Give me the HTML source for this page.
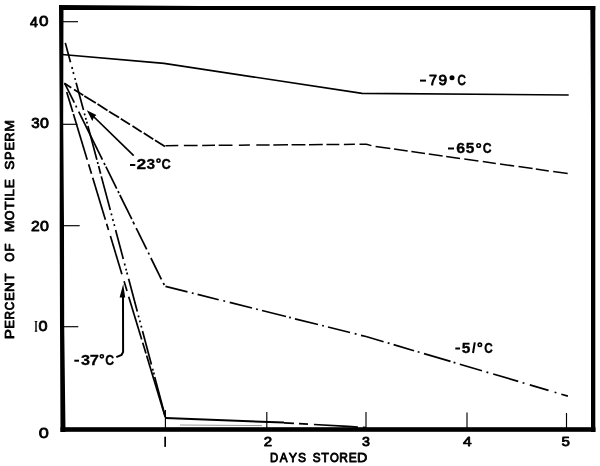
<!DOCTYPE html>
<html><head><meta charset="utf-8">
<style>
html,body{margin:0;padding:0;background:#fff;}
svg{display:block;filter:grayscale(1)}
text{font-family:"Liberation Sans",sans-serif;font-size:14px;fill:#000}
text.h{font-weight:bold;stroke:#000;stroke-width:0.3px;vector-effect:non-scaling-stroke;stroke-linejoin:round}
text.l{font-weight:normal;stroke:#000;stroke-width:0.85px;vector-effect:non-scaling-stroke;stroke-linejoin:round}
</style></head>
<body>
<svg width="600" height="466" viewBox="0 0 600 466">
<rect width="600" height="466" fill="#fff"/>
<!-- frame -->
<g fill="#000">
<polygon points="59,5 63.5,5 63.2,120 64,225 64.2,326 65.5,432 60.5,432 60,326 59.7,225 59.7,120"/>
<polygon points="59,5 200,6 595.3,6 595.3,10.1 59,10.1"/>
<polygon points="590.3,6 595.3,6 595.3,432 591,432 591,120"/>
<rect x="60.5" y="427.2" width="535" height="4.6"/>
</g>
<!-- ticks -->
<g stroke="#000" stroke-width="1.15" fill="none">
<line x1="63" y1="21.7" x2="78" y2="21.7"/>
<line x1="63" y1="124.3" x2="77.3" y2="124.3"/>
<line x1="63" y1="225.7" x2="79.7" y2="225.7"/>
<line x1="63" y1="326.7" x2="78.3" y2="326.7"/>
<line x1="165.4" y1="410" x2="165.4" y2="428"/>
<line x1="266.8" y1="412" x2="266.8" y2="428"/>
<line x1="366" y1="412" x2="366" y2="428"/>
<line x1="467" y1="412.5" x2="467" y2="428"/>
<line x1="566.5" y1="413" x2="566.5" y2="428"/>
</g>
<!-- data lines -->
<g stroke="#000" stroke-width="1.7" fill="none" stroke-linecap="butt">
<!-- -79 -->
<polyline points="62,54.5 164,63.4 362,93.3 568.7,95"/>
<!-- -65 -->
<g stroke-width="1.75">
<line x1="64.3" y1="83.3" x2="71.3" y2="87.7"/>
<line x1="74.0" y1="89.4" x2="83.3" y2="95.2"/>
<line x1="84.3" y1="95.9" x2="95.8" y2="103.1"/>
<line x1="97.5" y1="104.1" x2="107.5" y2="110.4"/>
<line x1="109.0" y1="111.4" x2="119.0" y2="117.6"/>
<line x1="120.8" y1="118.8" x2="130.0" y2="124.5"/>
<line x1="132.5" y1="126.1" x2="141.7" y2="131.9"/>
<line x1="143.7" y1="133.1" x2="153.3" y2="139.2"/>
<line x1="155.0" y1="140.2" x2="165.0" y2="146.5"/>
</g>
<g stroke-width="1.5">
<line x1="165.5" y1="145.7" x2="178.3" y2="145.6"/>
<line x1="183.9" y1="145.6" x2="197.6" y2="145.5"/>
<line x1="202.2" y1="145.4" x2="215.0" y2="145.3"/>
<line x1="218.7" y1="145.3" x2="232.5" y2="145.2"/>
<line x1="238.9" y1="145.2" x2="249.9" y2="145.1"/>
<line x1="256.3" y1="145.0" x2="269.6" y2="144.9"/>
<line x1="273.3" y1="144.9" x2="288.0" y2="144.8"/>
<line x1="291.6" y1="144.8" x2="305.4" y2="144.7"/>
<line x1="309.0" y1="144.7" x2="322.8" y2="144.6"/>
<line x1="326.5" y1="144.5" x2="339.3" y2="144.4"/>
<line x1="343.9" y1="144.4" x2="354.9" y2="144.3"/>
<polyline points="359.5,144.3 366.5,144.3 371.4,145.6"/>
<line x1="375.6" y1="146.5" x2="390.3" y2="148.5"/>
<line x1="394.0" y1="149.1" x2="407.7" y2="151.0"/>
<line x1="411.4" y1="151.5" x2="425.0" y2="153.4"/>
<line x1="428.8" y1="154.0" x2="442.6" y2="155.9"/>
<line x1="446.2" y1="156.4" x2="460.0" y2="158.4"/>
<line x1="464.3" y1="159.0" x2="478.4" y2="161.0"/>
<line x1="482.8" y1="161.6" x2="495.8" y2="163.4"/>
<line x1="500.0" y1="164.0" x2="514.2" y2="166.0"/>
<line x1="518.5" y1="166.6" x2="532.6" y2="168.6"/>
<line x1="535.8" y1="169.1" x2="548.8" y2="170.9"/>
<line x1="553.2" y1="171.6" x2="567.7" y2="173.6"/>
</g>
<!-- -51 -->
<polyline points="64.7,83.3 74.3,102.7"/>
<polyline points="75.8,105.7 76.6,107.5"/>
<polyline points="78.7,111.7 102.4,159.7"/>
<polyline points="104.0,163.0 105.0,165.0"/>
<polyline points="105.9,166.7 116.7,188.6"/>
<polyline points="118.0,191.2 118.9,193.1"/>
<polyline points="119.8,195.0 131.8,219.2"/>
<polyline points="133.0,221.7 134.3,224.3"/>
<polyline points="136.2,228.2 146.7,249.4"/>
<polyline points="148.3,252.6 149.2,254.5"/>
<polyline points="150.9,258.0 161.4,279.3"/>
<polyline points="163.3,283.0 164.3,285.0"/>
<line x1="165.5" y1="286.4" x2="187.5" y2="291.9"/>
<line x1="197.6" y1="294.4" x2="218.7" y2="299.7"/>
<line x1="229.7" y1="302.4" x2="252.0" y2="308.0"/>
<line x1="262.0" y1="310.5" x2="286.0" y2="316.5"/>
<line x1="295.0" y1="318.8" x2="318.0" y2="324.5"/>
<line x1="328.0" y1="327.0" x2="350.0" y2="332.5"/>
<line x1="361.0" y1="335.3" x2="366.0" y2="336.5"/>
<line x1="191.8" y1="293.0" x2="193.6" y2="293.4"/>
<line x1="223.3" y1="300.8" x2="225.1" y2="301.3"/>
<line x1="256.1" y1="309.0" x2="257.9" y2="309.5"/>
<line x1="289.1" y1="317.3" x2="290.9" y2="317.7"/>
<line x1="322.1" y1="325.5" x2="323.9" y2="326.0"/>
<line x1="354.7" y1="333.7" x2="356.5" y2="334.1"/>
<line x1="366.0" y1="336.5" x2="383.6" y2="341.7"/>
<line x1="393.6" y1="344.6" x2="414.0" y2="350.7"/>
<line x1="424.0" y1="353.6" x2="450.5" y2="361.4"/>
<line x1="459.8" y1="364.2" x2="482.0" y2="370.7"/>
<line x1="493.2" y1="374.0" x2="518.2" y2="381.4"/>
<line x1="529.8" y1="384.9" x2="548.5" y2="390.4"/>
<line x1="561.3" y1="394.2" x2="567.9" y2="396.1"/>
<line x1="387.7" y1="342.9" x2="389.5" y2="343.4"/>
<line x1="417.7" y1="351.8" x2="419.5" y2="352.3"/>
<line x1="453.6" y1="362.4" x2="455.4" y2="362.9"/>
<line x1="486.5" y1="372.1" x2="488.3" y2="372.6"/>
<line x1="522.6" y1="382.7" x2="524.4" y2="383.3"/>
<line x1="554.6" y1="392.2" x2="556.4" y2="392.7"/>
<!-- L1 -->
<polyline points="66.7,92.0 72.8,112.0"/>
<polyline points="73.4,114.0 87.2,159.7"/>
<polyline points="88.6,164.2 91.5,173.8"/>
<polyline points="92.7,177.7 105.4,219.8"/>
<polyline points="106.6,223.7 108.5,230.0"/>
<polyline points="110.4,236.0 121.9,274.2"/>
<polyline points="124.1,281.2 127.0,291.0"/>
<polyline points="128.7,296.7 141.7,339.5"/>
<polyline points="142.7,342.7 146.0,353.6"/>
<polyline points="146.6,355.5 165.2,417.0"/>
<!-- L2 -->
<polyline points="65.3,42.9 70.5,62.2"/>
<polyline points="71.9,67.1 72.4,68.9"/>
<polyline points="73.2,72.1 73.7,73.9"/>
<polyline points="74.9,78.1 75.3,79.9"/>
<polyline points="76.1,82.8 83.5,110.0"/>
<polyline points="84.4,113.4 84.9,115.2"/>
<polyline points="85.7,117.9 86.1,119.7"/>
<polyline points="86.7,121.8 87.2,123.6"/>
<polyline points="87.9,126.0 90.3,135.0 96.9,159.7"/>
<polyline points="97.5,162.0 98.0,164.0"/>
<polyline points="98.6,166.0 100.6,173.8"/>
<polyline points="101.3,176.4 110.3,210.0"/>
<polyline points="111.2,213.4 111.7,215.2"/>
<polyline points="112.7,219.1 113.2,220.9"/>
<polyline points="114.1,224.3 114.6,226.1"/>
<polyline points="115.6,230.0 123.3,259.0"/>
<polyline points="124.5,263.6 125.0,265.4"/>
<polyline points="125.9,268.7 126.4,270.5"/>
<polyline points="126.9,272.6 127.4,274.4"/>
<polyline points="128.6,278.7 137.3,311.5"/>
<polyline points="138.3,315.4 138.8,317.2"/>
<polyline points="139.7,320.5 140.2,322.3"/>
<polyline points="141.1,325.7 141.6,327.5"/>
<polyline points="142.5,331.0 151.4,364.5"/>
<polyline points="152.6,368.8 153.0,370.6"/>
<polyline points="153.6,372.6 154.1,374.4"/>
<polyline points="154.7,377.0 165.4,417.0"/>
<!-- after day 1 -->
<polyline points="165.4,418 284,422.6" stroke-width="2"/>
<polyline points="284,422.8 366,427.5" stroke-dasharray="10 5 9 6 34 0"/>
<polyline points="180,425 262,425.6" stroke-width="1" stroke="#999"/>
<!-- arrows -->
<line x1="133.7" y1="155.7" x2="93" y2="116"/>
<path d="M123,296 L123.1,352 L121.5,355 L116.3,357.2" stroke-width="2"/>
</g>
<g fill="#000">
<polygon points="86.8,110.2 96.4,115 94,117.2 92.3,121"/>
<polygon points="123.2,284 125.2,297.5 119.6,297.5"/>
</g>
<!-- labels -->
<g fill="#000">
<text class="l" transform="translate(30.10,26.57) scale(1.014,1.023)">4</text>
<text class="l" transform="translate(39.06,26.44) scale(1.218,0.994)">0</text>
<text class="l" transform="translate(31.15,127.74) scale(1.077,0.984)">3</text>
<text class="l" transform="translate(40.00,127.74) scale(1.143,0.984)">0</text>
<text class="l" transform="translate(30.94,231.27) scale(1.121,1.008)">2</text>
<text class="l" transform="translate(40.00,231.14) scale(1.143,0.994)">0</text>
<text class="l" transform="translate(38.49,331.04) scale(1.158,0.984)">0</text>
<rect x="35.3" y="321" width="1.4" height="10.6"/><rect x="34.7" y="321" width="2.6" height="0.9"/><rect x="34.7" y="330.7" width="2.6" height="0.9"/>
<text class="l" transform="translate(38.72,437.93) scale(1.293,1.074)">0</text>
<rect x="164.3" y="436.7" width="1.7" height="10.2"/>
<text class="l" transform="translate(263.67,446.07) scale(1.074,0.936)">2</text>
<text class="l" transform="translate(362.08,445.95) scale(1.017,0.923)">3</text>
<text class="l" transform="translate(463.07,446.27) scale(1.113,0.971)">4</text>
<text class="l" transform="translate(561.42,446.14) scale(1.077,0.957)">5</text>
<text class="l" transform="translate(270.09,462.07) scale(0.814,0.919)">D</text>
<text class="l" transform="translate(279.70,462.07) scale(0.835,0.919)">A</text>
<text class="l" transform="translate(288.75,462.07) scale(0.888,0.919)">Y</text>
<text class="l" transform="translate(297.98,461.95) scale(0.862,0.893)">S</text>
<text class="l" transform="translate(312.69,461.95) scale(0.838,0.893)">S</text>
<text class="l" transform="translate(321.24,462.07) scale(0.903,0.919)">T</text>
<text class="l" transform="translate(330.09,461.95) scale(0.811,0.893)">O</text>
<text class="l" transform="translate(339.34,462.07) scale(0.860,0.919)">R</text>
<text class="l" transform="translate(348.63,462.07) scale(0.863,0.919)">E</text>
<text class="l" transform="translate(356.95,462.07) scale(1.019,0.919)">D</text>
<rect x="420.0" y="79.60" width="6.0" height="2.0"/>
<text class="l" transform="translate(428.99,85.17) scale(1.029,1.012)">7</text>
<text class="l" transform="translate(438.40,85.04) scale(1.106,0.984)">9</text>
<circle cx="452.00" cy="77.65" r="2.52"/>
<text class="l" transform="translate(457.44,85.04) scale(0.818,0.984)">C</text>
<rect x="448.0" y="147.50" width="6.0" height="2.0"/>
<text class="h" transform="translate(456.27,152.71) scale(1.138,1.009)">6</text>
<text class="h" transform="translate(465.67,152.71) scale(1.105,1.024)">5</text>
<circle cx="478.65" cy="145.50" r="1.78" fill="none" stroke="#000" stroke-width="1.6"/>
<text class="h" transform="translate(482.65,152.71) scale(0.874,1.009)">C</text>
<rect x="455.3" y="347.50" width="4.7" height="2.0"/>
<text class="h" transform="translate(461.67,352.71) scale(1.105,1.054)">5</text>
<line x1="474.8" y1="342.4" x2="473" y2="353" stroke="#000" stroke-width="2"/>
<circle cx="479.85" cy="344.85" r="1.70" fill="none" stroke="#000" stroke-width="1.6"/>
<text class="h" transform="translate(484.37,352.71) scale(0.841,1.039)">C</text>
<rect x="74.3" y="359.70" width="4.7" height="2.0"/>
<text class="h" transform="translate(81.08,364.68) scale(1.164,1.077)">3</text>
<text class="h" transform="translate(89.74,364.85) scale(1.172,1.111)">7</text>
<circle cx="101.85" cy="356.35" r="1.60" fill="none" stroke="#000" stroke-width="1.6"/>
<text class="h" transform="translate(105.35,364.70) scale(0.874,1.079)">C</text>
<rect x="130.0" y="164.00" width="5.3" height="2.0"/>
<text class="h" transform="translate(136.55,168.85) scale(1.246,1.095)">2</text>
<text class="h" transform="translate(146.49,168.68) scale(1.106,1.077)">3</text>
<circle cx="158.50" cy="160.65" r="1.62" fill="none" stroke="#000" stroke-width="1.6"/>
<text class="h" transform="translate(161.62,168.70) scale(0.918,1.079)">C</text>
</g>
<g transform="translate(14.2,0) rotate(-90)">
<text class="l" transform="translate(-339.13,-0.42) scale(1.094,0.908)">P</text>
<text class="l" transform="translate(-328.61,-0.42) scale(0.903,0.908)">E</text>
<text class="l" transform="translate(-319.52,-0.42) scale(0.824,0.908)">R</text>
<text class="l" transform="translate(-310.17,-0.55) scale(0.840,0.883)">C</text>
<text class="l" transform="translate(-300.81,-0.42) scale(0.903,0.908)">E</text>
<text class="l" transform="translate(-292.08,-0.42) scale(0.965,0.908)">N</text>
<text class="l" transform="translate(-281.57,-0.42) scale(0.941,0.908)">T</text>
<text class="l" transform="translate(-261.73,-0.55) scale(0.832,0.883)">O</text>
<text class="l" transform="translate(-251.46,-0.42) scale(0.943,0.908)">F</text>
<text class="l" transform="translate(-232.13,-0.42) scale(1.009,0.908)">M</text>
<text class="l" transform="translate(-220.26,-0.55) scale(0.884,0.883)">O</text>
<text class="l" transform="translate(-209.68,-0.42) scale(0.966,0.908)">T</text>
<text class="l" transform="translate(-200.81,-0.42) scale(0.957,0.908)">I</text>
<text class="l" transform="translate(-196.80,-0.42) scale(0.980,0.908)">L</text>
<text class="l" transform="translate(-188.29,-0.42) scale(0.969,0.908)">E</text>
<text class="l" transform="translate(-169.80,-0.55) scale(0.986,0.883)">S</text>
<text class="l" transform="translate(-159.93,-0.42) scale(0.919,0.908)">P</text>
<text class="l" transform="translate(-150.43,-0.42) scale(0.916,0.908)">E</text>
<text class="l" transform="translate(-141.40,-0.42) scale(0.896,0.908)">R</text>
<text class="l" transform="translate(-131.73,-0.42) scale(1.009,0.908)">M</text>
</g>
</svg>
</body></html>
